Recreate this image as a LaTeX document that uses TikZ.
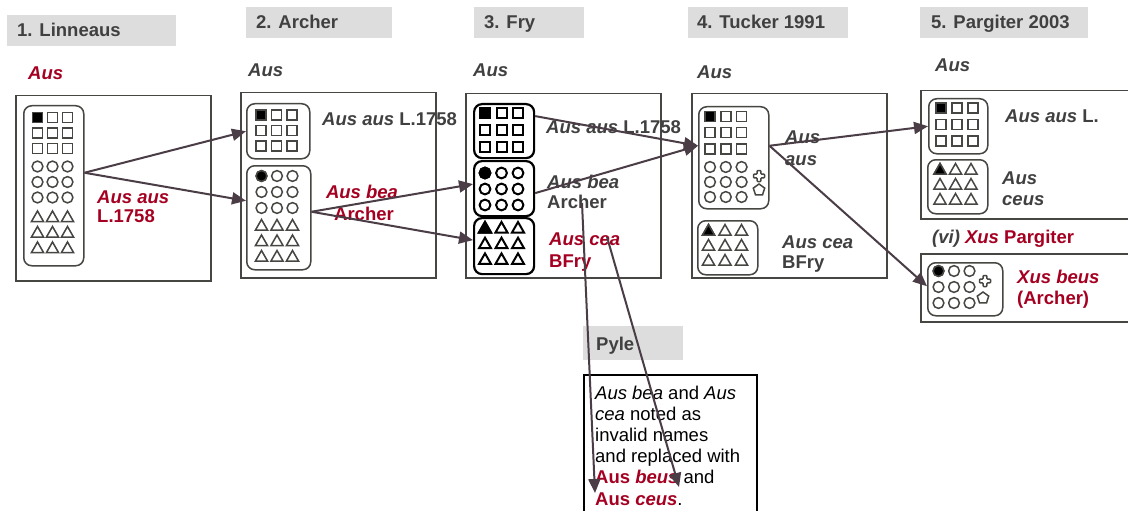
\documentclass[tikz,border=0pt]{standalone}
\usepackage{fontspec}
\setmainfont{Liberation Sans}
\usetikzlibrary{arrows.meta,calc}
\definecolor{tgrey}{RGB}{64,64,64}
\definecolor{bgrey}{RGB}{70,70,66}
\definecolor{tbox}{RGB}{221,221,221}
\definecolor{redc}{RGB}{165,0,33}
\definecolor{arrc}{RGB}{74,61,70}
\newcommand\Sq[3][sym]{\draw[#1] ({#2-5},{#3-5}) rectangle +(10,10);}
\newcommand\Ci[3][sym]{\draw[#1] ({#2},{#3}) circle[radius=5.4];}
\newcommand\Tr[3][sym]{\draw[#1] ({#2-6},{#3+5}) -- ++(6,-10.5) -- ++(6,10.5) -- cycle;}
\newcommand\Grid[6][sym]{\foreach \r in {0,1,2}{\foreach \c in {0,1,2}{#2[#1]{#3+\c*#5}{#4+\r*#6}}}}
\newcommand\Crs[2]{\draw[sym,rounded corners=0.8pt] ({#1-1.9},{#2-5.5}) -- ++(3.8,0) -- ++(0,3.6) -- ++(3.6,0) -- ++(0,3.8) -- ++(-3.6,0) -- ++(0,3.6) -- ++(-3.8,0) -- ++(0,-3.6) -- ++(-3.6,0) -- ++(0,-3.8) -- ++(3.6,0) -- cycle;}
\newcommand\Pent[2]{\draw[sym] ({#1},{#2-6}) -- ({#1+5.7},{#2-1.9}) -- ({#1+3.5},{#2+4.9}) -- ({#1-3.5},{#2+4.9}) -- ({#1-5.7},{#2-1.9}) -- cycle;}
\begin{document}
\begin{tikzpicture}[x=1pt,y=-1pt,
 panel/.style={draw=bgrey,line width=1.5pt,anchor=north west,inner sep=0},
 rr/.style={draw=bgrey,line width=1.5pt,rounded corners=8pt,anchor=north west,inner sep=0},
 rrb/.style={draw=black,line width=2.2pt,rounded corners=8pt,anchor=north west,inner sep=0},
 titlebox/.style={fill=tbox,anchor=north west,inner sep=0},
 ttl/.style={font=\fontsize{18.5}{21}\selectfont\bfseries,text=tgrey,anchor=base west,inner sep=0},
 lab/.style={font=\fontsize{18.5}{21}\selectfont\bfseries,text=tgrey,anchor=base west,inner sep=0},
 rlab/.style={lab,text=redc},
 plab/.style={font=\fontsize{18.5}{21}\selectfont,text=black,anchor=base west,inner sep=0},
 sym/.style={draw=bgrey,line width=1.5pt},
 symb/.style={draw=black,line width=2pt},
 arr/.style={draw=arrc,line width=2pt,-{Triangle[length=14pt,width=12pt]}},
]
\useasboundingbox[fill=white] (0,0) rectangle (1128,511);

% ---------- titles
\node[titlebox,minimum width=169,minimum height=31] (t1) at (7,15) {};
\node[ttl] (t1l) at (17,37) {1. Linneaus};
\node[titlebox,minimum width=146,minimum height=31] (t2) at (246,7) {};
\node[ttl] (t2l) at (256,29) {2. Archer};
\node[titlebox,minimum width=110,minimum height=31] (t3) at (474,7) {};
\node[ttl] (t3l) at (484,29) {3. Fry};
\node[titlebox,minimum width=160,minimum height=31] (t4) at (688,7) {};
\node[ttl] (t4l) at (697,29) {4. Tucker 1991};
\node[titlebox,minimum width=168,minimum height=31] (t5) at (920,7) {};
\node[ttl] (t5l) at (931,29) {5. Pargiter 2003};
\node[titlebox,minimum width=100,minimum height=34] (t6) at (583,326) {};
\node[ttl] (t6l) at (596,350) {Pyle};

% ---------- panel 1
\node[rlab] (p1aus) at (28,80) {\textit{Aus}};
\node[panel,minimum width=195,minimum height=185] (p1) at (15,95) {};
\node[rr,minimum width=60,minimum height=160] (r1) at (23,105) {};
\Grid{\Sq}{37.5}{117.5}{15}{15.5}
\Grid{\Ci}{37.5}{166.5}{15}{15.5}
\Grid{\Tr}{37.5}{216.5}{15}{15.5}
\Sq[sym,fill=black]{37.5}{117.5}
\node[rlab] (p1n1) at (97,203) {\textit{Aus aus}};
\node[rlab] (p1n2) at (97,222) {L.1758};

% ---------- panel 2
\node[lab] (p2aus) at (248,77) {\textit{Aus}};
\node[panel,minimum width=195,minimum height=185] (p2) at (240,92) {};
\node[rr,minimum width=63,minimum height=55] (a1) at (246,103) {};
\node[rr,minimum width=64,minimum height=104] (a2) at (246,165) {};
\Grid{\Sq}{261}{115}{15.5}{15.5}
\Sq[sym,fill=black]{261}{115}
\Grid{\Ci}{261.5}{176}{15.5}{16}
\Ci[sym,fill=black]{261.5}{176}
\Grid{\Tr}{261.5}{225}{15.5}{15.5}
\node[lab] (p2n) at (322,125) {\textit{Aus aus} L.1758};
\node[rlab,anchor=base] (p2b1) at (362,198) {\textit{Aus bea}};
\node[rlab,anchor=base] (p2b2) at (364,220) {Archer};

% ---------- panel 3
\node[lab] (p3aus) at (473,77) {\textit{Aus}};
\node[panel,minimum width=195,minimum height=184] (p3) at (465,93) {};
\node[rrb,minimum width=60,minimum height=54] (c1) at (473,103) {};
\node[rrb,minimum width=60,minimum height=55] (c2) at (473,160) {};
\node[rrb,minimum width=60,minimum height=56] (c3) at (473,217) {};
\Grid[symb]{\Sq}{485}{113}{16.5}{17}
\Sq[symb,fill=black]{485}{113}
\Grid[symb]{\Ci}{485}{173}{16.5}{16}
\Ci[symb,fill=black]{485}{173}
\Grid[symb]{\Tr}{485}{227.5}{16.5}{15.7}
\Tr[symb,fill=black]{485}{227.5}
\node[lab] (p3n) at (546,133) {\textit{Aus aus} L.1758};
\node[lab] (p3b1) at (547,188) {\textit{Aus bea}};
\node[lab] (p3b2) at (547,208) {Archer};
\node[rlab] (p3c1) at (549,245) {\textit{Aus cea}};
\node[rlab] (p3c2) at (549,267) {BFry};

% ---------- panel 4
\node[lab] (p4aus) at (697,78) {\textit{Aus}};
\node[panel,minimum width=195,minimum height=184] (p4) at (691,93) {};
\node[rr,minimum width=70,minimum height=102] (d1) at (698,106) {};
\node[rr,minimum width=60,minimum height=54] (d2) at (697,220) {};
\Grid{\Sq}{710}{116.5}{15.8}{16.2}
\Sq[sym,fill=black]{710}{116.5}
\Grid{\Ci}{710}{167}{15.8}{15}
\Crs{759}{176}
\Pent{759}{190}
\Grid{\Tr}{708.5}{230}{16.5}{15}
\Tr[sym,fill=black]{708.5}{230}
\node[lab] (p4a1) at (785,143) {\textit{Aus}};
\node[lab] (p4a2) at (785,165) {\textit{aus}};
\node[lab] (p4c1) at (782,248) {\textit{Aus cea}};
\node[lab] (p4c2) at (782,268) {BFry};

% ---------- panel 5
\node[lab] (p5aus) at (935,72) {\textit{Aus}};
\node[panel,minimum width=215,minimum height=128] (p5a) at (920,90) {};
\node[rr,minimum width=59,minimum height=55] (e1) at (928,98) {};
\node[rr,minimum width=60,minimum height=54] (e2) at (927,159) {};
\Grid{\Sq}{941}{108}{16}{16.5}
\Sq[sym,fill=black]{941}{108}
\Grid{\Tr}{940}{169}{15.5}{15}
\Tr[sym,fill=black]{940}{169}
\node[lab] (p5n) at (1005,122) {\textit{Aus aus} L.};
\node[lab] (p5c1) at (1002,184) {\textit{Aus}};
\node[lab] (p5c2) at (1002,205) {\textit{ceus}};
\node[lab] (p5x) at (932,243) {\textit{(vi)} \textcolor{redc}{\textit{Xus} Pargiter}};
\node[panel,minimum width=215,minimum height=68] (p5b) at (920,253) {};
\node[rr,minimum width=75,minimum height=53] (e3) at (927,262) {};
\Grid{\Ci}{938.5}{271}{15.5}{16}
\Ci[sym,fill=black]{938.5}{271}
\Crs{985}{281}
\Pent{983}{298}
\node[rlab] (p5b1) at (1017,283) {\textit{Xus beus}};
\node[rlab] (p5b2) at (1017,304) {(Archer)};

% ---------- Pyle
\node[draw=black,line width=2pt,anchor=north west,inner sep=0,minimum width=173,minimum height=150] (pylebox) at (583,374) {};
\node[plab] (y1) at (595,399) {\textit{Aus bea} and \textit{Aus}};
\node[plab] (y2) at (595,420) {\textit{cea} noted as};
\node[plab] (y3) at (595,441) {invalid names};
\node[plab] (y4) at (595,462) {and replaced with};
\node[plab] (y5) at (595,483) {\textcolor{redc}{\bfseries Aus \textit{beus}} and};
\node[plab] (y6) at (595,505) {\textcolor{redc}{\bfseries Aus \textit{ceus}}.};

% ---------- connectors
\draw[arr] ([yshift=13pt]r1.east) -- (a1.west);
\draw[arr] ([yshift=13pt]r1.east) -- ([yshift=17pt]a2.west);
\draw[arr] ([yshift=6pt]a2.east) -- ([yshift=4.5pt]c2.west);
\draw[arr] ([yshift=6pt]a2.east) -- ([yshift=6pt]c3.west);
\draw[arr] ([yshift=15pt]c1.east) -- ([yshift=12pt]d1.west);
\draw[arr] ([yshift=-4.5pt]c2.east) -- ([yshift=12pt]d1.west);
\draw[arr] ([yshift=12pt]d1.east) -- (e1.west);
\draw[arr] ([yshift=12pt]d1.east) -- ([yshift=3pt]e3.west);
\draw[arr] ([xshift=35pt,yshift=5pt]p3b2.base west) -- ([xshift=12pt,yshift=-119pt]pylebox.north west);
\draw[arr] ([xshift=58pt,yshift=8pt]p3c1.base west) -- ([xshift=96pt,yshift=-113pt]pylebox.north west);
\end{tikzpicture}
\end{document}
